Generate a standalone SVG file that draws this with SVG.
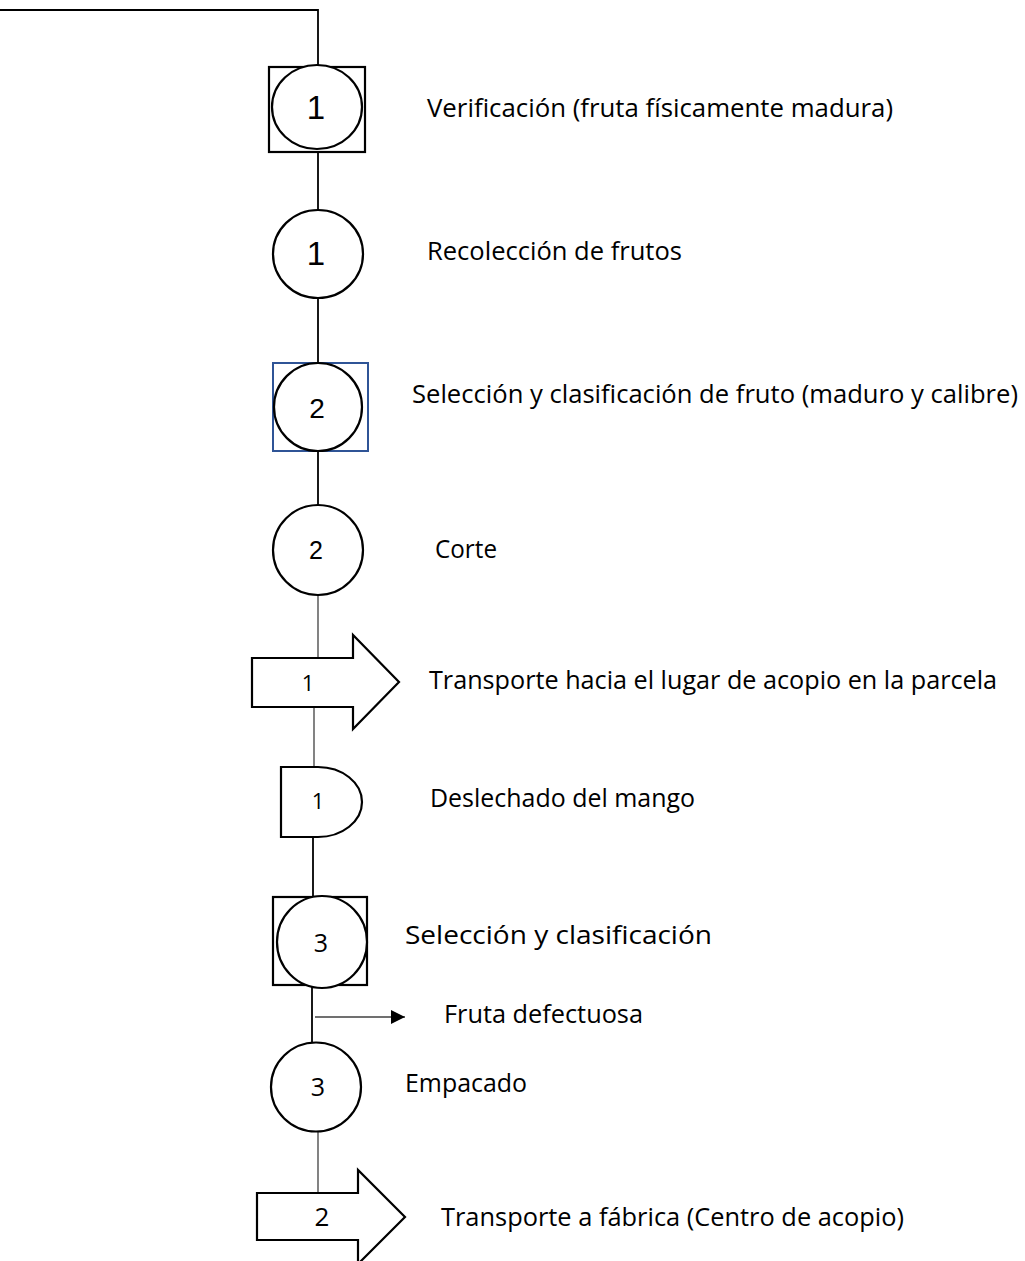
<svg xmlns="http://www.w3.org/2000/svg" width="1025" height="1261" viewBox="0 0 1025 1261">
<style>
.sh{fill:#fff;stroke:#000;stroke-width:2.2}
.ln{fill:none;stroke:#000;stroke-width:1.8}
.thin{fill:none;stroke:#404040;stroke-width:1.3}
.num{font-family:"Liberation Sans",Arial,sans-serif;fill:#000;text-anchor:middle}
.numc{font-family:"Open Sans","Noto Sans",sans-serif;fill:#000;text-anchor:middle}
.lbl{font-family:"Open Sans","Noto Sans",sans-serif;font-size:26px;fill:#000}
</style>
<defs>
<marker id="ah" viewBox="0 0 10 10" refX="10" refY="5" markerWidth="14" markerHeight="14" markerUnits="userSpaceOnUse" orient="auto">
<path d="M0,0 L10,5 L0,10 Z" fill="#000"/>
</marker>
</defs>
<rect width="1025" height="1261" fill="#fff"/>
<g id="connectors">
<polyline class="ln" points="0,10 318,10 318,67"/>
<line class="ln" x1="318" y1="152" x2="318" y2="210"/>
<line class="ln" x1="318" y1="298" x2="318" y2="363"/>
<line class="ln" x1="318" y1="451" x2="318" y2="506"/>
<line class="thin" x1="318" y1="595" x2="318" y2="658"/>
<line class="thin" x1="314" y1="707" x2="314" y2="767"/>
<line class="ln" x1="313" y1="837" x2="313" y2="897"/>
<line class="ln" x1="312" y1="985" x2="312" y2="1042"/>
<line class="thin" x1="315" y1="1017" x2="405" y2="1017" marker-end="url(#ah)"/>
<line class="thin" x1="318" y1="1132" x2="318" y2="1193"/>
</g>
<g id="n1">
<rect class="sh" x="269" y="67" width="96" height="85"/>
<ellipse class="sh" cx="317" cy="107" rx="45" ry="42"/>
<text class="num" x="316" y="119" font-size="33">1</text>
<text class="lbl" x="427" y="117" textLength="466" lengthAdjust="spacingAndGlyphs">Verificación (fruta físicamente madura)</text>
</g>
<g id="n2">
<ellipse class="sh" cx="318" cy="254" rx="45" ry="44"/>
<text class="num" x="316" y="265" font-size="33">1</text>
<text class="lbl" x="427" y="260" textLength="255" lengthAdjust="spacingAndGlyphs">Recolección de frutos</text>
</g>
<g id="n3">
<rect x="273" y="363" width="95" height="88" fill="#fff" stroke="#2F5496" stroke-width="2"/>
<circle class="sh" cx="318" cy="407" r="44"/>
<text class="num" x="317" y="418" font-size="28">2</text>
<text class="lbl" x="412" y="403" textLength="606" lengthAdjust="spacingAndGlyphs">Selección y clasificación de fruto (maduro y calibre)</text>
</g>
<g id="n4">
<circle class="sh" cx="318" cy="550" r="45"/>
<text class="num" x="316" y="559" font-size="25">2</text>
<text class="lbl" x="435" y="558" textLength="62" lengthAdjust="spacingAndGlyphs">Corte</text>
</g>
<g id="n5">
<polygon class="sh" points="252,658 353,658 353,635 399,682 353,729 353,707 252,707"/>
<text class="numc" x="308" y="691" font-size="22">1</text>
<text class="lbl" x="429" y="689" textLength="568" lengthAdjust="spacingAndGlyphs">Transporte hacia el lugar de acopio en la parcela</text>
</g>
<g id="n6">
<path class="sh" d="M281,767 H318 A44,35 0 0 1 318,837 H281 Z"/>
<text class="numc" x="318" y="809" font-size="22">1</text>
<text class="lbl" x="430" y="807" textLength="265" lengthAdjust="spacingAndGlyphs">Deslechado del mango</text>
</g>
<g id="n7">
<rect class="sh" x="273" y="897" width="94" height="88"/>
<ellipse class="sh" cx="322" cy="942" rx="45" ry="46"/>
<text class="numc" x="321" y="952" font-size="25">3</text>
<text class="lbl" x="405" y="944" textLength="307" lengthAdjust="spacingAndGlyphs">Selección y clasificación</text>
</g>
<g id="n8">
<text class="lbl" x="444" y="1023" textLength="199" lengthAdjust="spacingAndGlyphs">Fruta defectuosa</text>
</g>
<g id="n9">
<ellipse class="sh" cx="316" cy="1087" rx="45" ry="44.5"/>
<text class="numc" x="318" y="1096" font-size="25">3</text>
<text class="lbl" x="405" y="1092" textLength="122" lengthAdjust="spacingAndGlyphs">Empacado</text>
</g>
<g id="n10">
<polygon class="sh" points="257,1193 358,1193 358,1170 405,1217 358,1264 358,1240 257,1240"/>
<text class="numc" x="322" y="1226" font-size="26">2</text>
<text class="lbl" x="441" y="1226" textLength="463" lengthAdjust="spacingAndGlyphs">Transporte a fábrica (Centro de acopio)</text>
</g>
</svg>
